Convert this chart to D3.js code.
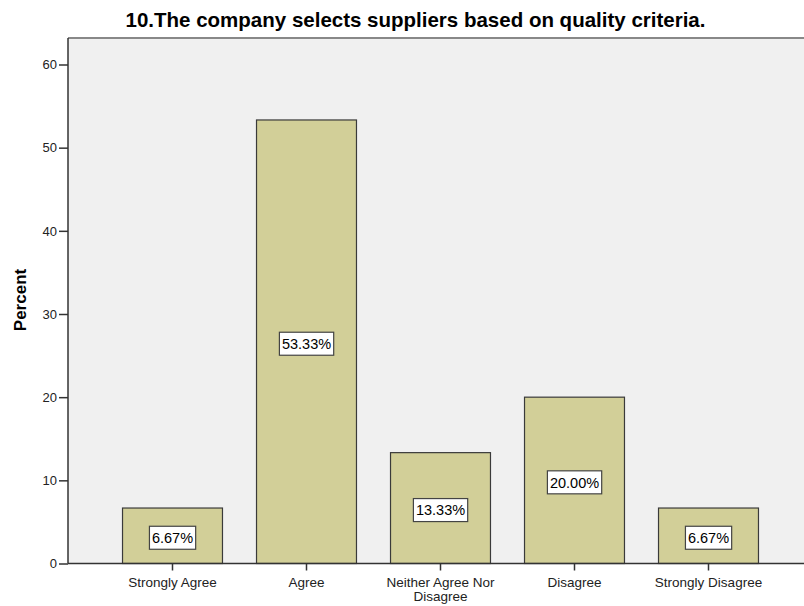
<!DOCTYPE html>
<html>
<head>
<meta charset="utf-8">
<script src="https://cdn.jsdelivr.net/npm/d3@7"></script>
<style>
  body { margin: 0; background: #fff; }
  svg { display: block; font-family: "Liberation Sans", Arial, sans-serif; }
</style>
</head>
<body>
<svg id="chart" width="804" height="606"></svg>
<script>
// Response categories and their share of respondents (%)
const categories = ["Strongly Agree", "Agree", "Neither Agree Nor Disagree", "Disagree", "Strongly Disagree"];
const percents = [6.67, 53.33, 13.33, 20.00, 6.67];
const yTicks = [0, 10, 20, 30, 40, 50, 60];
const title = "10.The company selects suppliers based on quality criteria.";

const svg = d3.select("#chart");
const plot = { left: 68, right: 804, top: 38, bottom: 563.5 };

const x = d3.scaleBand().domain(categories).range([105.5, 775.5]).padding(0);
const barW = x.bandwidth() * 0.746;
const y = d3.scaleLinear().domain([0, 60]).range([plot.bottom, 64.5]);

// Plot background
svg.append("rect")
  .attr("x", plot.left).attr("y", plot.top)
  .attr("width", plot.right - plot.left).attr("height", plot.bottom - plot.top)
  .attr("fill", "#f0f0f0");

// Top frame line
svg.append("line")
  .attr("x1", plot.left).attr("x2", plot.right)
  .attr("y1", plot.top).attr("y2", plot.top)
  .attr("stroke", "#888").attr("stroke-width", 2);

// Bars
svg.append("g").selectAll("rect")
  .data(categories)
  .join("rect")
  .attr("x", d => x(d) + (x.bandwidth() - barW) / 2)
  .attr("y", (d, i) => y(percents[i]))
  .attr("width", barW)
  .attr("height", (d, i) => plot.bottom - y(percents[i]))
  .attr("fill", "#d2cf98")
  .attr("stroke", "#3a3a3a")
  .attr("stroke-width", 1.2);

// Value labels in boxes at bar mid-height
const labels = svg.append("g").selectAll("g")
  .data(categories)
  .join("g")
  .attr("transform", (d, i) => `translate(${x(d) + x.bandwidth() / 2},${(y(percents[i]) + plot.bottom) / 2 + 2})`);
labels.each(function(d, i) {
  const g = d3.select(this);
  const t = g.append("text")
    .attr("text-anchor", "middle")
    .attr("dy", "0.36em")
    .attr("font-size", 14.5)
    .attr("fill", "#000")
    .text(percents[i].toFixed(2) + "%");
  const bb = t.node().getBBox();
  g.insert("rect", "text")
    .attr("x", bb.x - 2.5).attr("y", -11.5)
    .attr("width", bb.width + 5).attr("height", 23)
    .attr("fill", "#fff")
    .attr("stroke", "#444").attr("stroke-width", 1.2);
});

// Y axis
const yAxis = svg.append("g")
  .attr("transform", `translate(${plot.left},0)`)
  .call(d3.axisLeft(y).tickValues(yTicks).tickSize(9).tickPadding(2));
yAxis.select(".domain").attr("stroke", "#333").attr("stroke-width", 1.5)
  .attr("d", `M0,${plot.top}V${plot.bottom}`);
yAxis.selectAll(".tick line").attr("stroke", "#333").attr("stroke-width", 1.5);
yAxis.selectAll(".tick text").attr("font-size", 13).attr("fill", "#222")
  .attr("font-family", "Liberation Sans, Arial, sans-serif");

// X axis
const xAxis = svg.append("g")
  .attr("transform", `translate(0,${plot.bottom})`)
  .call(d3.axisBottom(x).tickSize(7).tickPadding(5));
xAxis.select(".domain").attr("stroke", "#333").attr("stroke-width", 1.5)
  .attr("d", `M${plot.left},0H${plot.right}`);
xAxis.selectAll(".tick line").attr("stroke", "#333").attr("stroke-width", 1.5);
xAxis.selectAll(".tick text").remove();
xAxis.selectAll(".tick").each(function(d) {
  const lines = d === "Neither Agree Nor Disagree" ? ["Neither Agree Nor", "Disagree"] : [d];
  const t = d3.select(this).append("text")
    .attr("text-anchor", "middle")
    .attr("font-size", 13.5)
    .attr("fill", "#222")
    .attr("font-family", "Liberation Sans, Arial, sans-serif");
  lines.forEach((l, k) => {
    t.append("tspan").attr("x", 0).attr("y", 23 + k * 14).text(l);
  });
});

// Y axis title
svg.append("text")
  .attr("transform", `translate(26,300) rotate(-90)`)
  .attr("text-anchor", "middle")
  .attr("font-size", 17)
  .attr("font-weight", "bold")
  .text("Percent");

// Chart title
svg.append("text")
  .attr("x", 415.5).attr("y", 27)
  .attr("text-anchor", "middle")
  .attr("font-size", 20.5)
  .attr("font-weight", "bold")
  .text(title);
</script>
</body>
</html>
